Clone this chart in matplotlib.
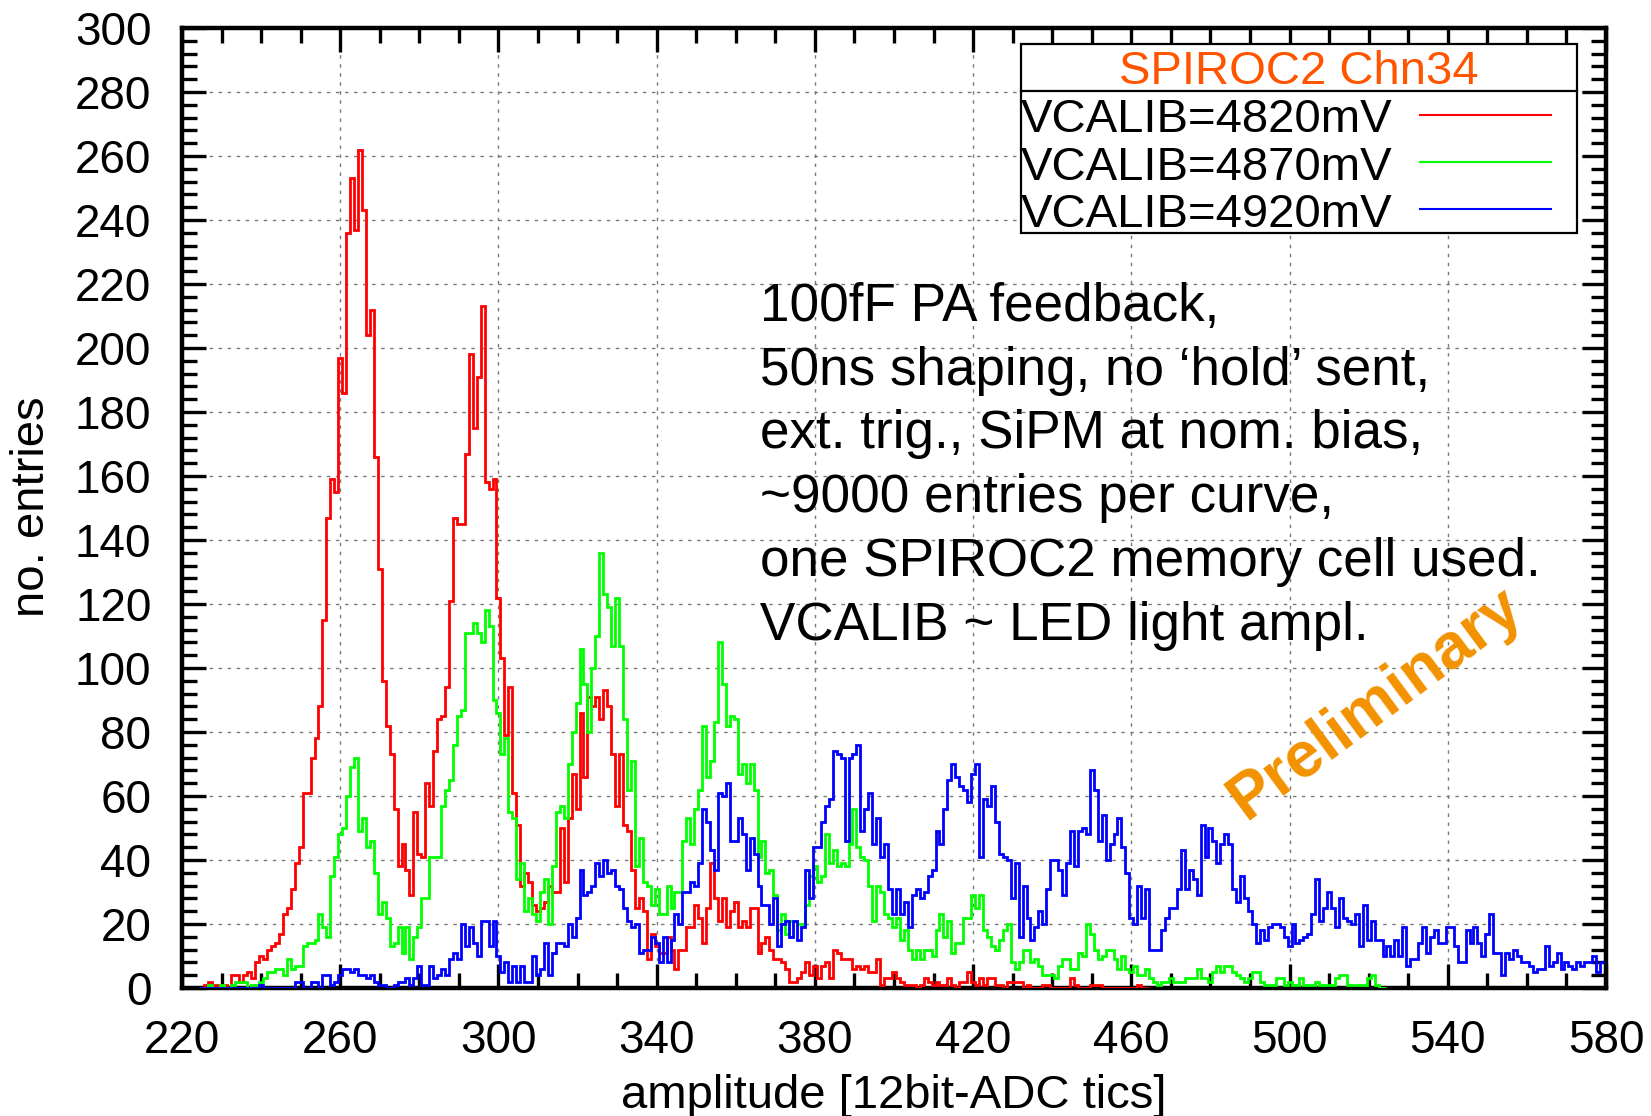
import matplotlib
matplotlib.use('Agg')
import matplotlib.pyplot as plt
import numpy as np
from matplotlib.patches import Rectangle
from matplotlib.lines import Line2D
from matplotlib.ticker import MultipleLocator

plt.rcParams['font.family'] = ['Liberation Sans', 'DejaVu Sans']

# ---------------- data (counts per ADC bin, bins of width 1) ----------------
red_start = 225
red_counts = [
    0, 1, 2, 1, 1, 0, 1, 0, 4, 4,
    2, 4, 5, 3, 8, 10, 9, 12, 13, 14,
    17, 23, 25, 31, 39, 44, 61, 61, 72, 78,
    88, 115, 147, 159, 155, 197, 186, 236, 253, 237,
    262, 243, 204, 212, 166, 131, 96, 82, 73, 56,
    38, 45, 37, 29, 55, 42, 41, 64, 57, 74,
    84, 85, 94, 121, 147, 145, 145, 167, 198, 175,
    191, 213, 158, 156, 159, 122, 103, 79, 94, 61,
    51, 32, 36, 33, 26, 24, 25, 27, 32, 30,
    30, 50, 33, 53, 67, 56, 86, 66, 91, 88,
    91, 84, 93, 88, 73, 57, 73, 51, 49, 37,
    25, 28, 24, 9, 17, 13, 11, 11, 16, 12,
    6, 12, 12, 19, 19, 26, 22, 14, 25, 39,
    28, 21, 28, 19, 24, 27, 19, 21, 19, 25,
    25, 11, 14, 16, 12, 9, 9, 8, 6, 2,
    2, 3, 5, 8, 4, 7, 3, 7, 8, 3,
    12, 11, 9, 9, 9, 6, 7, 6, 7, 5,
    5, 9, 1, 3, 3, 5, 3, 2, 1, 1,
    1, 0, 1, 3, 2, 1, 2, 1, 1, 3,
    1, 0, 2, 2, 5, 2, 1, 3, 1, 3,
    3, 1, 1, 0, 2, 2, 2, 2, 0, 1,
    0, 0, 0, 1, 1, 0, 0, 0, 0, 0,
    3, 1, 0, 0, 0, 1, 1, 1, 0, 0,
    0, 0, 0, 0, 0, 0, 0, 1, 0, 0,
]

green_start = 225
green_counts = [
    0, 0, 1, 0, 0, 1, 0, 0, 1, 2,
    2, 2, 0, 1, 1, 2, 3, 5, 5, 6,
    6, 4, 9, 6, 7, 7, 13, 14, 14, 15,
    23, 19, 16, 35, 41, 48, 50, 60, 69, 72,
    49, 53, 44, 46, 36, 23, 27, 22, 13, 14,
    19, 11, 19, 9, 16, 19, 28, 28, 41, 41,
    41, 57, 62, 65, 76, 85, 87, 111, 111, 114,
    111, 108, 118, 113, 90, 86, 73, 78, 55, 53,
    34, 39, 24, 28, 23, 21, 30, 34, 20, 38,
    55, 57, 53, 70, 80, 89, 106, 95, 80, 100,
    110, 136, 123, 119, 107, 122, 107, 84, 62, 71,
    38, 47, 33, 32, 26, 31, 23, 23, 32, 25,
    30, 30, 46, 53, 45, 56, 62, 82, 66, 71,
    83, 108, 95, 82, 85, 84, 67, 70, 64, 70,
    62, 41, 46, 36, 37, 29, 18, 23, 17, 21,
    21, 20, 20, 26, 35, 38, 33, 35, 48, 39,
    43, 38, 39, 38, 45, 56, 44, 41, 40, 32,
    21, 32, 30, 23, 22, 19, 22, 15, 18, 12,
    9, 12, 9, 12, 12, 10, 18, 23, 16, 21,
    11, 14, 14, 22, 22, 29, 25, 29, 18, 16,
    13, 12, 15, 18, 20, 8, 6, 8, 12, 12,
    8, 9, 7, 4, 4, 4, 3, 7, 9, 9,
    6, 6, 11, 10, 20, 17, 12, 9, 10, 12,
    12, 9, 6, 10, 6, 5, 7, 4, 4, 6,
    3, 2, 1, 2, 2, 3, 2, 2, 2, 3,
    3, 3, 6, 3, 3, 2, 5, 7, 5, 7,
    7, 5, 4, 3, 2, 3, 5, 5, 2, 1,
    1, 1, 3, 3, 1, 2, 1, 1, 3, 1,
    1, 1, 2, 1, 1, 1, 1, 3, 4, 4,
    1, 1, 1, 1, 1, 3, 4, 1, 0, 0,
]

blue_start = 225
blue_counts = [
    0, 0, 0, 0, 0, 0, 0, 0, 0, 0,
    0, 0, 0, 0, 0, 1, 0, 0, 0, 0,
    0, 0, 0, 0, 2, 2, 0, 0, 2, 2,
    0, 4, 4, 1, 2, 4, 6, 6, 5, 6,
    4, 4, 3, 4, 2, 1, 1, 0, 0, 1,
    2, 2, 3, 1, 3, 7, 1, 1, 7, 3,
    4, 6, 4, 9, 11, 9, 20, 13, 19, 14,
    10, 21, 21, 13, 21, 10, 5, 8, 2, 7,
    2, 7, 2, 2, 10, 4, 6, 14, 4, 11,
    14, 14, 13, 20, 16, 22, 37, 29, 30, 32,
    39, 35, 40, 36, 37, 32, 31, 25, 21, 19,
    20, 11, 12, 12, 16, 14, 8, 16, 8, 15,
    23, 20, 30, 30, 33, 32, 39, 56, 52, 43,
    37, 61, 60, 64, 46, 46, 53, 48, 37, 47,
    42, 32, 26, 26, 20, 28, 13, 20, 21, 16,
    21, 15, 19, 37, 28, 44, 44, 52, 57, 59,
    74, 73, 72, 46, 72, 73, 76, 49, 56, 61,
    45, 53, 41, 45, 31, 23, 31, 23, 27, 19,
    29, 31, 28, 30, 35, 37, 49, 45, 56, 65,
    70, 66, 63, 62, 58, 67, 70, 41, 59, 57,
    63, 52, 42, 41, 40, 28, 39, 16, 32, 22,
    15, 19, 24, 20, 31, 40, 40, 37, 29, 39,
    49, 38, 49, 50, 48, 68, 62, 46, 54, 40,
    45, 48, 53, 44, 36, 22, 20, 32, 22, 31,
    12, 12, 12, 18, 22, 25, 25, 31, 43, 31,
    37, 34, 29, 51, 41, 50, 46, 39, 45, 48,
    45, 31, 27, 35, 28, 24, 20, 14, 18, 15,
    19, 20, 20, 19, 16, 13, 20, 14, 15, 16,
    17, 23, 34, 21, 25, 30, 25, 19, 28, 22,
    21, 20, 23, 13, 26, 15, 21, 15, 15, 10,
    13, 10, 15, 10, 19, 7, 9, 9, 14, 19,
    11, 16, 18, 14, 14, 19, 19, 13, 8, 8,
    18, 14, 19, 14, 10, 17, 23, 11, 11, 4,
    11, 9, 12, 10, 8, 8, 7, 5, 6, 6,
    13, 7, 8, 11, 6, 8, 7, 6, 8, 7,
    8, 8, 10, 5, 8,
]

series_labels = ["VCALIB=4820mV", "VCALIB=4870mV", "VCALIB=4920mV"]
series_colors = ["#ff0000", "#00ff00", "#0000ff"]
legend_title = "SPIROC2 Chn34"
note_lines = [
    "100fF PA feedback,",
    "50ns shaping, no \u2018hold\u2019 sent,",
    "ext. trig., SiPM at nom. bias,",
    "~9000 entries per curve,",
    "one SPIROC2 memory cell used.",
    "VCALIB ~ LED light ampl.",
]
x_ticks = list(range(220, 581, 40))
y_ticks = list(range(0, 301, 20))

# ---------------- figure ----------------
W, H = 1651, 1116
fig = plt.figure(figsize=(W / 100, H / 100), dpi=100)
L, R, T, B = 182, 1606, 28, 988
ax = fig.add_axes([L / W, 1 - B / H, (R - L) / W, (B - T) / H])

def fx(px):
    return px / W

def fy(py):
    return 1 - py / H

starts = [red_start, green_start, blue_start]
counts = [red_counts, green_counts, blue_counts]
for i, (s, c) in enumerate(zip(starts, counts)):
    c = np.asarray(c, dtype=float)
    edges = np.arange(s - 0.5, s + len(c) + 0.5, 1.0)
    ax.stairs(c, edges, baseline=None, color=series_colors[i], linewidth=2.0,
              zorder=3 + i)

ax.set_xlim(220, 580)
ax.set_ylim(0, 300)
ax.set_xticks(x_ticks)
ax.set_yticks(y_ticks)
ax.xaxis.set_minor_locator(MultipleLocator(10))
ax.yaxis.set_minor_locator(MultipleLocator(4))
ax.tick_params(which='both', direction='in', top=True, right=True,
               labelsize=33, pad=22)
ax.tick_params(which='major', length=17, width=2.4)
ax.tick_params(which='minor', length=11, width=2.4)
for sp in ax.spines.values():
    sp.set_linewidth(3.2)
ax.grid(True, which='major', color='#7a7a7a', linestyle=(0, (2.5, 4)),
        linewidth=1.0, zorder=1)
ax.set_axisbelow(True)

fig.text(fx(32), fy(507), "no. entries", rotation=90, ha='center', va='center',
         fontsize=34)
fig.text(fx(894), fy(1108), "amplitude [12bit-ADC tics]", ha='center',
         va='baseline', fontsize=34)

# ---------------- legend box ----------------
bx0, by0, bx1, by1, bsep = 1021, 44, 1577, 233, 91
fig.patches.append(Rectangle((fx(bx0), fy(by1)), fx(bx1) - fx(bx0), fy(by0) - fy(by1),
                             transform=fig.transFigure, facecolor='white',
                             edgecolor='black', linewidth=1.6, zorder=10))
fig.lines.append(Line2D([fx(bx0), fx(bx1)], [fy(bsep), fy(bsep)],
                        transform=fig.transFigure, color='black', linewidth=1.6,
                        zorder=11))
fig.text(fx(1299), fy(84), legend_title, ha='center', va='baseline',
         fontsize=34, color='#ff5500', zorder=12)
row_base = [132, 180, 227]
row_line = [115, 162, 209]
for i in range(3):
    fig.text(fx(1021), fy(row_base[i]), series_labels[i], ha='left',
             va='baseline', fontsize=34, zorder=12)
    fig.lines.append(Line2D([fx(1420), fx(1551)], [fy(row_line[i])] * 2,
                            transform=fig.transFigure, color=series_colors[i],
                            linewidth=1.5, zorder=12))

# ---------------- annotation ----------------
note_base = [321, 385, 448, 512, 576, 640]
for line, yb in zip(note_lines, note_base):
    fig.text(fx(760), fy(yb), line, ha='left', va='baseline', fontsize=38.2,
             zorder=12)

fig.text(fx(1376), fy(703), "Preliminary", rotation=36.5, ha='center',
         va='center', fontsize=46, fontweight='bold', color='#f39200',
         rotation_mode='anchor', zorder=12)

fig.savefig('out.png', dpi=100)
